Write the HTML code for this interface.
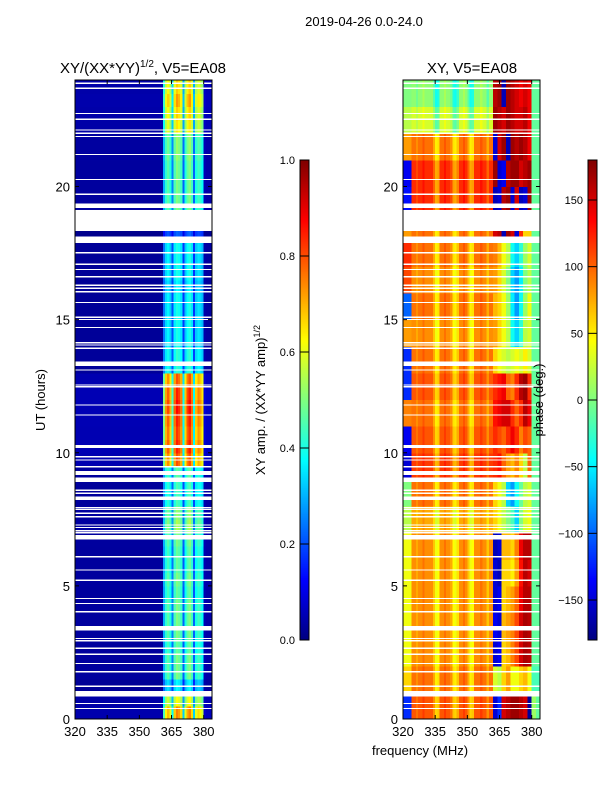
<!DOCTYPE html>
<html><head><meta charset="utf-8"><style>
body{margin:0;background:#fff;}
svg text{font-family:"Liberation Sans","DejaVu Sans",sans-serif;fill:#000;}
</style></head><body>
<svg id="fig" width="600" height="800" xmlns="http://www.w3.org/2000/svg">
<rect width="600" height="800" fill="#fff"/>
<text x="364" y="26" font-size="13" text-anchor="middle">2019-04-26 0.0-24.0</text>
<text x="143" y="73" font-size="15" text-anchor="middle">XY/(XX*YY)<tspan font-size="10" dy="-6">1/2</tspan><tspan dy="6">, V5=EA08</tspan></text>
<text x="472" y="73" font-size="15" text-anchor="middle">XY, V5=EA08</text>
<text transform="translate(45,400) rotate(-90)" font-size="13" text-anchor="middle">UT (hours)</text>
<text x="420" y="755" font-size="13" text-anchor="middle">frequency (MHz)</text>
<text transform="translate(265,400) rotate(-90)" font-size="13" text-anchor="middle">XY amp. / (XX*YY amp)<tspan font-size="9" dy="-5">1/2</tspan></text>
<g id="ampPanel" shape-rendering="crispEdges"></g>
<g id="phPanel" shape-rendering="crispEdges"></g>
<g id="axes"></g>
<text transform="translate(543,400) rotate(-90)" font-size="13" text-anchor="middle">phase (deg.)</text>
</svg>
<script>
// ---- data ----
const freqStart = 320, nChan = 64; // 1 MHz channels 320..383
const ampChan = [0.03,0.03,0.03,0.03,0.03,0.03,0.03,0.03,0.03,0.03,0.03,0.03,0.03,0.03,0.03,0.03,0.03,0.03,0.03,0.03,0.03,0.03,0.03,0.03,0.03,0.03,0.03,0.03,0.03,0.03,0.03,0.03,0.03,0.03,0.03,0.03,0.03,0.03,0.03,0.03,0.03,
 0.3,0.42,0.46,0.4,0.25,0.45,0.5,0.48,0.44,0.22,0.4,0.47,0.5,0.44,0.22,0.4,0.44,0.42,0.38,0.05,0.04,0.04,0.04];
// gain per half hour (0-24h)
const ampHalfHour = [1.5,1.25,0.75,1.0,1.0,0.95,1.0,1.0,1.0,0.95,1.0,0.95,0.95,1.0,1.1,1.05,0.9,0.9,0.95,1.6,1.7,1.65,1.7,1.75,
 1.7,1.6,0.85,0.85,0.8,0.8,0.8,0.8,0.75,0.8,0.8,0.8,0.45,0.45,1.0,1.0,1.0,1.0,1.05,1.05,1.3,1.35,1.45,1.35];
const phaseLeft = [105,95,85,85,85,85,85,75,95,115,105,95,105,95,85,95,85,95,95,120,120,95,30,5];
const phaseEdge = [-120,60,40,40,40,40,40,20,0,-150,-140,90,-120,-120,80,-100,110,120,80,-130,-140,80,20,0];
const phaseChanOff = [0,0,0,0,0,0,-10,0,0,10,0,0,0,0,-20,-45,-40,0,0,10,0,0,-10,-40,-45,-30,0,0,10,0,-20,-45,-40,0,0,0,10,0,0,-20,0,0];
const phaseRight = [
 [-150,-120,150,160,170,170,160,150,-170,10,-10],
 [30,20,60,80,40,40,60,70,40,-20,-20],
 [-150,-140,60,70,90,110,150,165,160,-10,-10],
 [-140,-150,70,80,90,110,150,165,160,-10,-10],
 [-150,-140,60,70,80,100,140,160,160,-10,-10],
 [-150,-160,60,60,50,80,130,160,150,-10,-10],
 [-160,-150,70,70,60,90,140,160,160,-10,-10],
 [60,40,20,0,-20,-60,0,30,40,-10,-10],
 [60,40,20,-60,-80,-40,-10,20,30,-10,-10],
 [120,130,100,80,70,90,60,20,100,-10,-10],
 [120,110,100,120,140,120,90,110,100,-10,-10],
 [130,140,150,150,120,100,120,160,140,-10,-10],
 [120,130,140,100,90,120,160,170,120,-10,-10],
 [60,40,30,20,30,40,30,50,30,-10,-10],
 [80,60,40,20,-40,-60,-30,20,30,-10,-10],
 [70,60,40,10,-50,-80,-40,10,40,-10,-10],
 [80,60,30,0,-60,-80,-50,0,20,-10,-10],
 [90,70,40,20,-40,-60,-30,10,30,-10,-10],
 [150,160,-160,170,150,-150,120,60,60,-10,-10],
 [-160,-150,160,170,-150,150,-160,-150,170,-10,-10],
 [170,-150,-140,160,170,170,150,160,170,-10,-10],
 [-150,150,170,-160,170,160,170,160,140,-10,-10],
 [170,160,150,170,160,150,150,160,140,-10,-10],
 [160,170,-160,170,160,150,140,150,140,-10,-10]];
const flagStarts = [23.85,23.66,22.72,22.5,22.1,21.97,21.85,21.18,20.24,19.68,19.2,18.33,17.87,17.49,17.06,16.86,16.59,16.27,16.15,16.02,15.62,15.06,14.98,14.68,14.11,14.02,13.9,13.26,13.08,12.52,12.45,
 11.77,11.39,10.17,9.82,9.7,9.45,9.17,8.91,8.57,8.45,8.23,7.92,7.85,7.7,7.57,7.26,7.17,7.04,6.97,6.75,6.07,5.57,5.19,4.5,4.31,4.0,3.32,3.0,2.91,2.63,2.41,2.06,1.75,1.21,0.84,0.56,0.37];
const flagEnds = [23.9,23.71,22.77,22.55,22.15,22.02,21.9,21.23,20.29,19.73,19.37,19.12,18.12,17.54,17.11,16.91,16.64,16.32,16.2,16.07,15.67,15.11,15.03,14.73,14.16,14.07,13.95,13.42,13.13,12.57,12.5,
 11.82,11.44,10.29,9.87,9.75,9.5,9.32,9.07,8.62,8.5,8.35,7.97,7.9,7.75,7.62,7.31,7.22,7.09,7.02,6.91,6.12,5.62,5.24,4.55,4.36,4.05,3.49,3.05,2.96,2.68,2.46,2.11,1.8,1.26,1.06,0.61,0.42];
const yTicks = [0,5,10,15,20];
const xTicks = [320,335,350,365,380];
const ampCbTicks = [0.0,0.2,0.4,0.6,0.8,1.0];
const phCbTicks = [-150,-100,-50,0,50,100,150];

{
const NS='http://www.w3.org/2000/svg';
const yTop=80, yBot=719;
const yS = h => yBot - (h/24)*(yBot-yTop);
const xL = f => 75 + (f-320)*2.145;
const xR = f => 403 + (f-320)*2.145;
function jet(v){v=Math.max(0,Math.min(1,v));
 const r=Math.min(4*v-1.5,-4*v+4.5),g=Math.min(4*v-0.5,-4*v+3.5),b=Math.min(4*v+0.5,-4*v+2.5);
 const c=x=>Math.round(255*Math.max(0,Math.min(1,x)));return `rgb(${c(r)},${c(g)},${c(b)})`;}
function mk(tag,attrs,parent){const e=document.createElementNS(NS,tag);for(const k in attrs)e.setAttribute(k,attrs[k]);parent.appendChild(e);return e;}
const wrap=p=>(((p+180)%360+360)%360-180);

const ampG=document.getElementById('ampPanel'), phG=document.getElementById('phPanel');
for(let hh=0;hh<48;hh++){
 const y0=yS((hh+1)/2), y1=yS(hh/2), hr=Math.floor(hh/2);
 for(let c=0;c<nChan;c++){
  const f=freqStart+c;
  const a=Math.min(1,ampChan[c]*ampHalfHour[hh]);
  const r=mk('rect',{x:xL(f).toFixed(2),y:y0.toFixed(2),width:2.7,height:(y1-y0+0.6).toFixed(2),fill:jet(a)},ampG);
  
  
  let p;
  if(c<4) p=phaseEdge[hr];
  else if(c<42) p=phaseLeft[hr]+phaseChanOff[c];
  else p=phaseRight[hr][Math.min(10,Math.floor((c-42)/2))];
  const r2=mk('rect',{x:xR(f).toFixed(2),y:y0.toFixed(2),width:2.7,height:(y1-y0+0.6).toFixed(2),fill:jet((wrap(p)+180)/360)},phG);
  
  
 }
}
for(let i=0;i<flagStarts.length;i++){
 for(const [g,x0] of [[ampG,75],[phG,403]]){
  const r=mk('rect',{x:x0,y:yS(flagEnds[i]).toFixed(2),width:137,height:(yS(flagStarts[i])-yS(flagEnds[i])).toFixed(2),fill:'#fff'},g);
  
  
 }
}
const ax=document.getElementById('axes');
for(const x0 of [212,540]){const r=mk('rect',{x:x0,y:80,width:6,height:640,fill:'#fff'},ax);
 
 }

for(const x0 of [75,403]){
 const fr=mk('rect',{x:x0,y:yTop,width:137,height:yBot-yTop,fill:'none',stroke:'#000','stroke-width':1},ax);
 
 
 const sx = x0===75?xL:xR;
 for(const t of yTicks){const y=yS(t);
  mk('line',{x1:x0,x2:x0+4,y1:y,y2:y,stroke:'#000'},ax);mk('line',{x1:x0+137,x2:x0+133,y1:y,y2:y,stroke:'#000'},ax);
  const tx=mk('text',{x:x0-5,y:y+5,'font-size':13,'text-anchor':'end'},ax);tx.textContent=t;
  
  }
 for(const t of xTicks){const x=sx(t);
  mk('line',{x1:x,x2:x,y1:yBot,y2:yBot-4,stroke:'#000'},ax);mk('line',{x1:x,x2:x,y1:yTop,y2:yTop+4,stroke:'#000'},ax);
  const tx=mk('text',{x:x,y:yBot+17,'font-size':13,'text-anchor':'middle'},ax);tx.textContent=t;
  
  }
}
const cbTop=160,cbBot=640;
for(const [x0,ticks,lo,hi,nm] of [[300,ampCbTicks,0,1,'amp'],[588,phCbTicks,-180,180,'phase']]){
 for(let i=0;i<240;i++){const r=mk('rect',{x:x0,y:cbBot-(i+1)*2,width:9,height:2.3,fill:jet((i+0.5)/240)},ax);
  
  }
 const fr=mk('rect',{x:x0,y:cbTop,width:9,height:cbBot-cbTop,fill:'none',stroke:'#000'},ax);
 
 
 for(const t of ticks){const y=cbBot-(t-lo)/(hi-lo)*(cbBot-cbTop);
  mk('line',{x1:x0,x2:x0+9,y1:y,y2:y,stroke:'#000'},ax);
  const tx=mk('text',{x:x0-5,y:y+4,'font-size':11,'text-anchor':'end'},ax);
  tx.textContent = nm==='amp'? t.toFixed(1) : (t<0?'\u2212'+(-t):t);
  
  }
}
}
</script>
</body></html>
